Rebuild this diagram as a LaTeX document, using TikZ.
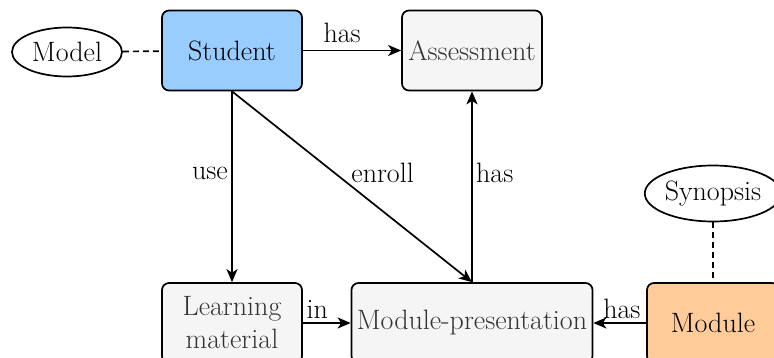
\documentclass[tikz,border=0pt]{standalone}
\usepackage{fontspec}
\usetikzlibrary{arrows.meta,shapes.geometric}
\definecolor{stublue}{HTML}{99CCFF}
\definecolor{modorange}{HTML}{FFCC99}
\definecolor{boxgray}{HTML}{F5F5F5}
\definecolor{txtgray}{HTML}{333333}

\begin{document}
\begin{tikzpicture}[line cap=round,line join=round,>={Stealth[length=13pt,width=11pt,inset=3.5pt]},x=1pt,y=-1pt,
    every node/.style={font=\fontsize{28}{33}\selectfont},
    entity/.style={draw,rounded corners=7pt,line width=1.7pt,minimum width=140pt,minimum height=80pt,align=center},
    plainbox/.style={entity,fill=boxgray,text=txtgray},
    attr/.style={draw,ellipse,line width=1.7pt,inner sep=0pt},
    rel/.style={->,line width=1.7pt},
    link/.style={line width=1.7pt,line cap=butt,dash pattern=on 6pt off 4pt}]
        \useasboundingbox (0,0) rectangle (774,358);
        % entities
        \node[entity,fill=stublue] (stud) at (232,50.5) {Student};
        \node[plainbox] (asmt) at (472,50.5) {Assessment};
        \node[plainbox] (learn) at (232,323) {Learning\\material};
        \node[plainbox,minimum width=241pt] (modpres) at (472,323) {Module-presentation};
        \node[entity,fill=modorange,minimum width=132pt] (module) at (713,323) {Module};
        % attributes
        \node[attr,minimum width=110pt,minimum height=49pt] (model) at (67,52) {Model};
        \node[attr,minimum width=121pt,minimum height=56pt] (syn) at (713,193.5) {Synopsis};
        % links
        \draw[link] (model) -- (stud);
        \draw[link] (syn) -- (module);
        \draw[rel] (stud) -- node[pos=0.4,above=4pt] {has} (asmt);
        \draw[rel] (stud) -- node[pos=0.43,left] {use} (learn);
        \draw[rel] (stud.south) -- node[pos=0.43,right=12pt] {enroll} (modpres.north);
        \draw[rel] (modpres) -- node[pos=0.57,right] {has} (asmt);
        \draw[rel] (learn) -- node[pos=0.3,above] {in} (modpres);
        \draw[rel] (module) -- node[pos=0.46,above] {has} (modpres);
    \end{tikzpicture}
\end{document}
